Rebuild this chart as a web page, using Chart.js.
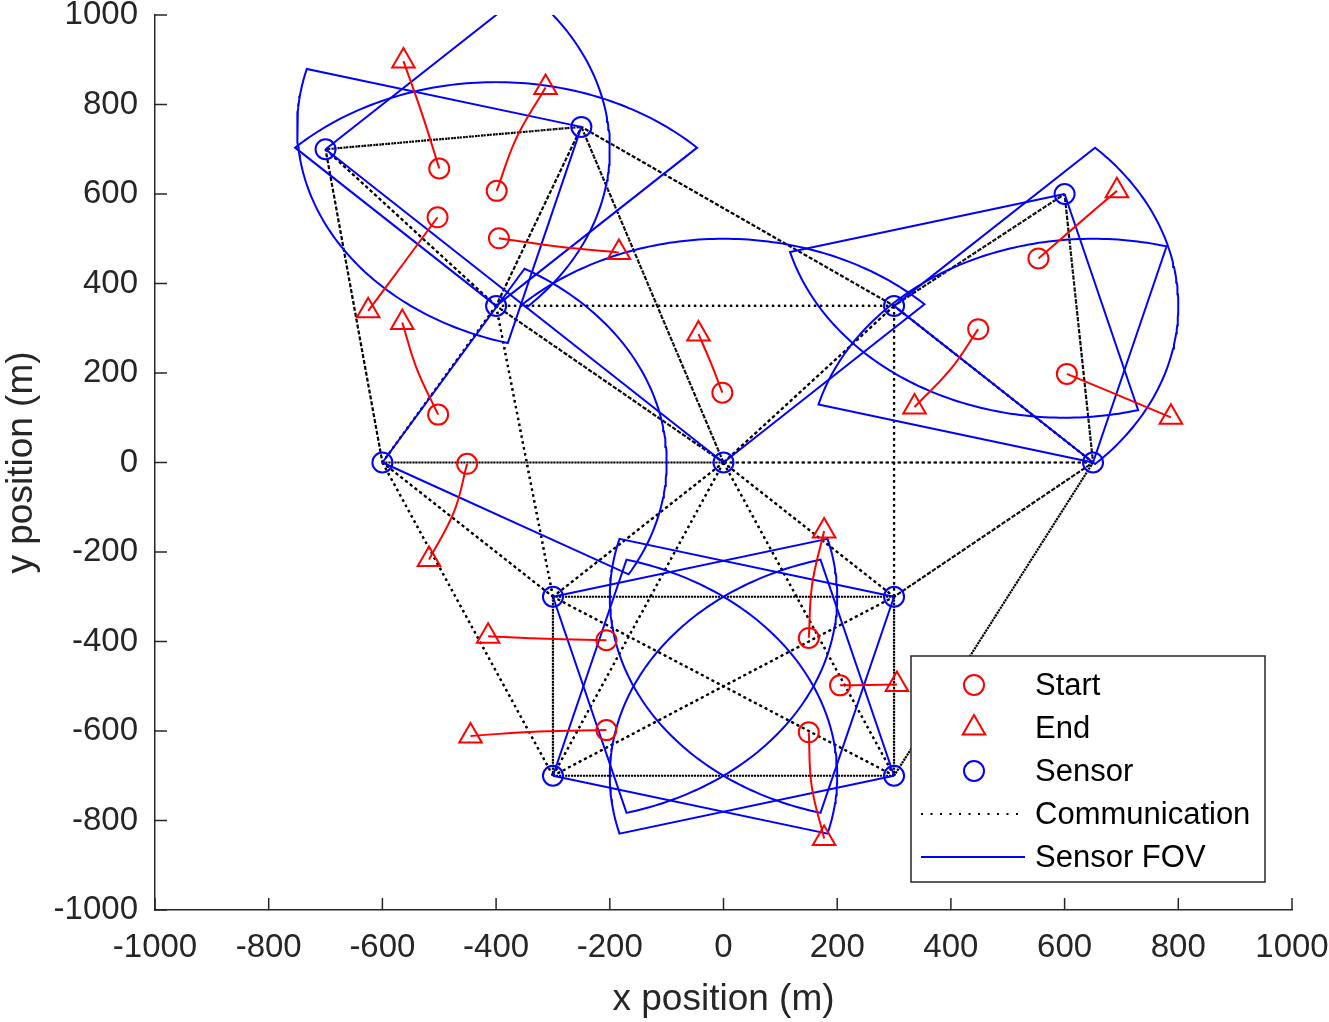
<!DOCTYPE html>
<html>
<head>
<meta charset="utf-8">
<script src="https://cdn.jsdelivr.net/npm/chart.js@4.4.0/dist/chart.umd.min.js"></script>
<style>
  html, body { margin: 0; padding: 0; background: #fff; }
  canvas { display: block; }
</style>
</head>
<body>
<canvas id="myChart" width="1329" height="1022"></canvas>
<script>
// sensor positions (m)
const sensorX = [-700, -250, -400, 300, 600, -600, 0, 650, -300, 300, -300, 300];
const sensorY = [700, 750, 350, 350, 600, 0, 0, 0, -300, -300, -700, -700];

// field of view of each sensor: start / end bearing (deg) and range (m)
const fovFrom = [-45, 165, 45, -45, 195, -30, 45, 75, -75, 165, -15, 105];
const fovTo = [45, 255, 135, 45, 285, 60, 135, 165, 15, 255, 75, 195];
const fovRange = 500;

// communication links (sensor numbers)
const linkFrom = [1, 1, 1, 2, 2, 2, 3, 3, 3, 3, 4, 4, 4, 4, 5, 6, 6, 6, 7, 7, 7, 7, 7, 8, 8, 9, 9, 9, 10, 10, 11];
const linkTo = [2, 3, 6, 3, 4, 7, 4, 6, 7, 9, 5, 7, 8, 10, 8, 7, 9, 11, 8, 9, 10, 11, 12, 10, 12, 10, 11, 12, 11, 12, 12];

// target tracks: start, a point half way, end
const startX = [-500, -399, -503, -395, -502, -451, -2, 448, 554, 604, 150, -206, 205, -206, 150];
const startY = [657, 607, 548, 501, 107, -3, 156, 298, 456, 198, -392, -397, -498, -598, -603];
const midX = [-530, -364, -564, -288, -540, -474, -22, 401, 622, 695, 156, -311, 255, -325, 155];
const midY = [778, 726, 443, 482, 211, -110, 222, 211, 531, 150, -272, -394, -497, -601, -722];
const endX = [-563, -313, -625, -184, -565, -518, -44, 336, 692, 787, 177, -414, 305, -445, 177];
const endY = [897, 838, 339, 469, 313, -217, 287, 124, 607, 101, -153, -388, -496, -611, -840];

const xTicks = [-1000, -800, -600, -400, -200, 0, 200, 400, 600, 800, 1000];
const yTicks = [-1000, -800, -600, -400, -200, 0, 200, 400, 600, 800, 1000];

const FONT = "'Liberation Sans', Arial, Helvetica, sans-serif";
const AXIS = "#262626";
const RED = "#ff0000";
const BLUE = "#0000ff";

let pt = (x, y) => ({x: x, y: y});
let datasets = [];

// communication (drawn both ways, like the original plot)
for (let k = 0; k < linkFrom.length; k++) {
    let a = linkFrom[k] - 1;
    let b = linkTo[k] - 1;
    [[a, b], [b, a]].forEach(p => {
        datasets.push({
            data: [pt(sensorX[p[0]], sensorY[p[0]]), pt(sensorX[p[1]], sensorY[p[1]])],
            showLine: true, borderColor: "#000", borderWidth: 2.2, borderDash: [2.2, 3.8],
            pointRadius: 0, order: 3
        });
    });
}

// sensor FOV wedges
for (let s = 0; s < sensorX.length; s++) {
    let pts = [pt(sensorX[s], sensorY[s])];
    for (let a = fovFrom[s]; a <= fovTo[s]; a++) {
        let r = a * Math.PI / 180;
        pts.push(pt(sensorX[s] + fovRange * Math.cos(r), sensorY[s] + fovRange * Math.sin(r)));
    }
    pts.push(pt(sensorX[s], sensorY[s]));
    datasets.push({
        data: pts, showLine: true, borderColor: BLUE, borderWidth: 2,
        pointRadius: 0, order: 2
    });
}

// target tracks
for (let t = 0; t < startX.length; t++) {
    datasets.push({
        data: [pt(startX[t], startY[t]), pt(midX[t], midY[t]), pt(endX[t], endY[t])],
        showLine: true, tension: 0.4, borderColor: RED, borderWidth: 2,
        pointRadius: 0, order: 1
    });
}

// markers
datasets.push({
    label: "Start",
    data: startX.map((x, i) => pt(x, startY[i])),
    pointStyle: "circle", pointRadius: 10, borderColor: RED, borderWidth: 2,
    backgroundColor: "rgba(0,0,0,0)", showLine: false, order: 0
});
datasets.push({
    label: "End",
    data: endX.map((x, i) => pt(x, endY[i])),
    pointStyle: "triangle", pointRadius: 13, borderColor: RED, borderWidth: 2,
    backgroundColor: "rgba(0,0,0,0)", showLine: false, order: 0
});
datasets.push({
    label: "Sensor",
    data: sensorX.map((x, i) => pt(x, sensorY[i])),
    pointStyle: "circle", pointRadius: 10, borderColor: BLUE, borderWidth: 2,
    backgroundColor: "rgba(0,0,0,0)", showLine: false, order: 0
});

// inward ticks + legend box
const extras = {
    id: "extras",
    afterDraw(chart) {
        const ctx = chart.ctx;
        const area = chart.chartArea;
        const xs = chart.scales.x;
        const ys = chart.scales.y;
        ctx.save();
        ctx.strokeStyle = AXIS;
        ctx.lineWidth = 1.5;
        ctx.setLineDash([]);
        xTicks.forEach(v => {
            let px = xs.getPixelForValue(v);
            ctx.beginPath();
            ctx.moveTo(px, area.bottom);
            ctx.lineTo(px, area.bottom - 12);
            ctx.stroke();
        });
        yTicks.forEach(v => {
            let py = ys.getPixelForValue(v);
            ctx.beginPath();
            ctx.moveTo(area.left, py);
            ctx.lineTo(area.left + 12, py);
            ctx.stroke();
        });

        // legend
        let w = 354, h = 226;
        let left = area.right - 27 - w;
        let top = area.bottom - 28 - h;
        ctx.fillStyle = "#fff";
        ctx.fillRect(left, top, w, h);
        ctx.strokeStyle = AXIS;
        ctx.lineWidth = 1.5;
        ctx.strokeRect(left, top, w, h);

        let names = ["Start", "End", "Sensor", "Communication", "Sensor FOV"];
        let mx = left + 63;
        ctx.lineWidth = 2;
        names.forEach((name, i) => {
            let cy = top + 29 + i * 43;
            ctx.setLineDash([]);
            if (i == 0 || i == 2) {
                ctx.strokeStyle = i == 0 ? RED : BLUE;
                ctx.beginPath();
                ctx.arc(mx, cy, 10, 0, Math.PI * 2);
                ctx.stroke();
            } else if (i == 1) {
                ctx.strokeStyle = RED;
                let r = 13;
                ctx.beginPath();
                for (let k = 0; k < 3; k++) {
                    let ang = k * 2 * Math.PI / 3;
                    let px = mx + Math.sin(ang) * r;
                    let py = cy - Math.cos(ang) * r;
                    if (k == 0) ctx.moveTo(px, py); else ctx.lineTo(px, py);
                }
                ctx.closePath();
                ctx.stroke();
            } else if (i == 3) {
                ctx.strokeStyle = "#000";
                ctx.setLineDash([2, 7.5]);
                ctx.beginPath();
                ctx.moveTo(left + 10, cy);
                ctx.lineTo(left + 114, cy);
                ctx.stroke();
            } else {
                ctx.strokeStyle = BLUE;
                ctx.beginPath();
                ctx.moveTo(left + 10, cy);
                ctx.lineTo(left + 114, cy);
                ctx.stroke();
            }
            ctx.fillStyle = "#000";
            ctx.font = "31px " + FONT;
            ctx.textAlign = "left";
            ctx.textBaseline = "middle";
            ctx.fillText(name, left + 124, cy + 1);
        });
        ctx.restore();
    }
};

let myChart = new Chart("myChart", {
    type: "scatter",
    data: {datasets: datasets},
    options: {
        responsive: false,
        animation: false,
        events: [],
        layout: {padding: {top: 14, right: 37, left: 0, bottom: 0}},
        plugins: {
            legend: {display: false},
            tooltip: {enabled: false}
        },
        scales: {
            x: {
                type: "linear", min: -1000, max: 1000,
                afterBuildTicks: s => { s.ticks = xTicks.map(v => ({value: v})); },
                afterFit: s => { s.height = 112; s.paddingLeft = 0; s.paddingRight = 0; },
                grid: {display: false, drawTicks: false},
                border: {display: true, color: AXIS, width: 1.5},
                ticks: {
                    color: AXIS, font: {family: FONT, size: 33}, padding: 18,
                    maxRotation: 0, autoSkip: false, callback: v => String(v)
                },
                title: {
                    display: true, text: "x position (m)", color: AXIS,
                    font: {family: FONT, size: 37}, padding: {top: 0, bottom: 0}
                }
            },
            y: {
                type: "linear", min: -1000, max: 1000,
                afterBuildTicks: s => { s.ticks = yTicks.map(v => ({value: v})); },
                afterFit: s => { s.width = 155; s.paddingTop = 0; s.paddingBottom = 0; },
                grid: {display: false, drawTicks: false},
                border: {display: true, color: AXIS, width: 1.5},
                ticks: {
                    color: AXIS, font: {family: FONT, size: 33}, padding: 17,
                    autoSkip: false, callback: v => String(v)
                },
                title: {
                    display: true, text: "y position (m)", color: AXIS,
                    font: {family: FONT, size: 37}, padding: {top: 0, bottom: 0}
                }
            }
        }
    },
    plugins: [extras]
});
</script>
</body>
</html>
